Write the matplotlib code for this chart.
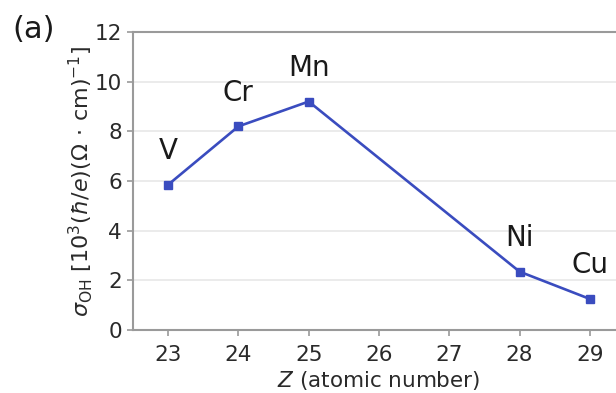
import matplotlib
matplotlib.use("Agg")
import matplotlib.pyplot as plt

elements = ["V", "Cr", "Mn", "Ni", "Cu"]
Z = [23, 24, 25, 28, 29]
sigma_oh = [5.85, 8.2, 9.2, 2.35, 1.25]
xticks = [23, 24, 25, 26, 27, 28, 29]
yticks = [0, 2, 4, 6, 8, 10, 12]

fig = plt.figure(figsize=(6.16, 3.93), dpi=100)
ax = fig.add_axes([133/616, 63/393, (625-133)/616, (330-32)/393])

blue = "#3a4cbf"
gray = "#9a9a9a"
ax.plot(Z, sigma_oh, color=blue, lw=1.9, marker="s", ms=6, zorder=3)
for el, x, y in zip(elements, Z, sigma_oh):
    ax.annotate(el, (x, y), xytext=(0, 18.5), textcoords="offset points",
                ha="center", va="baseline", fontsize=20, color="#1a1a1a")

ax.set_xlim(22.5, 29.5)
ax.set_ylim(0, 12)
ax.set_xticks(xticks)
ax.set_yticks(yticks)
ax.grid(axis="y", color="#e8e8e8", lw=1.2)
ax.set_axisbelow(True)
for s in ax.spines.values():
    s.set_color(gray)
    s.set_linewidth(1.5)
ax.tick_params(labelsize=15.5, colors=gray, labelcolor="#2a2a2a", length=4, width=1.2)
ax.tick_params(axis="x", pad=7)
ax.tick_params(axis="y", pad=4)

ax.set_xlabel(r"$Z$ (atomic number)", fontsize=15.5, color="#2a2a2a", labelpad=3)
ax.set_ylabel(r"$\sigma_{\rm OH}$ $[10^3(\hbar/e)(\Omega\,\cdot\,{\rm cm})^{-1}]$",
              fontsize=16, color="#2a2a2a", labelpad=0)
fig.text(12/616, 1 - 30/393, "(a)", fontsize=22, va="center", ha="left", color="#1a1a1a")

fig.savefig("out.png", dpi=100)
